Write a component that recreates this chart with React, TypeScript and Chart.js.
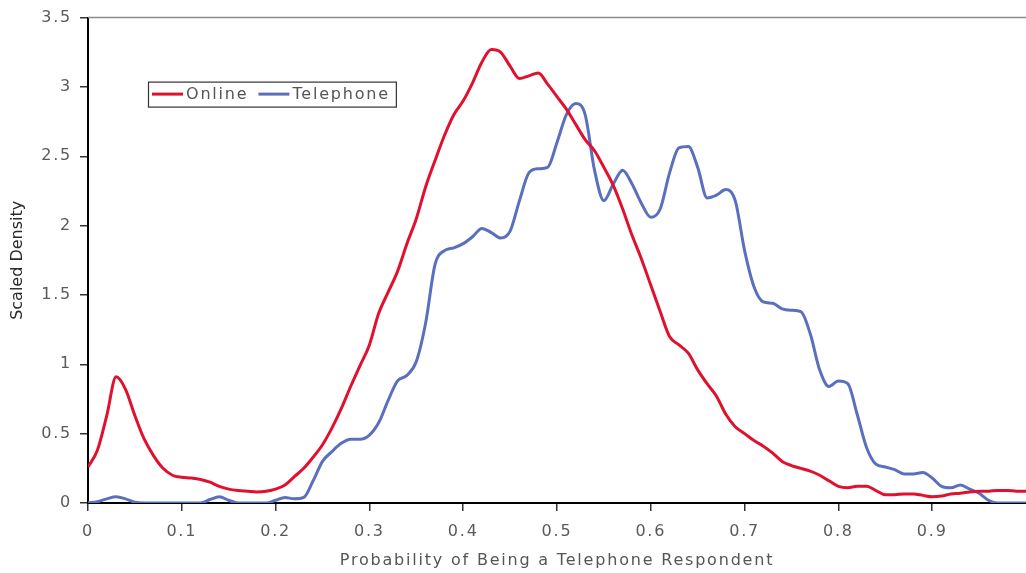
import React, { useEffect, useRef } from 'react';
import { Chart, registerables } from 'chart.js';

Chart.register(...registerables);

const xValues = [
  0.00, 0.01, 0.02, 0.03, 0.04, 0.05, 0.06, 0.07, 0.08, 0.09,
  0.10, 0.11, 0.12, 0.13, 0.14, 0.15, 0.16, 0.17, 0.18, 0.19,
  0.20, 0.21, 0.22, 0.23, 0.24, 0.25, 0.26, 0.27, 0.28, 0.29,
  0.30, 0.31, 0.32, 0.33, 0.34, 0.35, 0.36, 0.37, 0.38, 0.39,
  0.40, 0.41, 0.42, 0.43, 0.44, 0.45, 0.46, 0.47, 0.48, 0.49,
  0.50, 0.51, 0.52, 0.53, 0.54, 0.55, 0.56, 0.57, 0.58, 0.59,
  0.60, 0.61, 0.62, 0.63, 0.64, 0.65, 0.66, 0.67, 0.68, 0.69,
  0.70, 0.71, 0.72, 0.73, 0.74, 0.75, 0.76, 0.77, 0.78, 0.79,
  0.80, 0.81, 0.82, 0.83, 0.84, 0.85, 0.86, 0.87, 0.88, 0.89,
  0.90, 0.91, 0.92, 0.93, 0.94, 0.95, 0.96, 0.97, 0.98, 0.99,
  1.00,
];

const onlineValues = [
  0.26, 0.38, 0.63, 0.91, 0.82, 0.63, 0.46, 0.34, 0.25, 0.20,
  0.185, 0.18, 0.17, 0.15, 0.12, 0.10, 0.09, 0.085, 0.08, 0.085,
  0.10, 0.13, 0.19, 0.25, 0.33, 0.42, 0.54, 0.68, 0.84, 0.99,
  1.14, 1.37, 1.52, 1.67, 1.87, 2.05, 2.28, 2.47, 2.65, 2.80,
  2.90, 3.03, 3.18, 3.27, 3.25, 3.15, 3.06, 3.08, 3.10, 3.02,
  2.93, 2.84, 2.73, 2.62, 2.54, 2.42, 2.29, 2.12, 1.93, 1.76,
  1.57, 1.38, 1.20, 1.14, 1.08, 0.96, 0.86, 0.77, 0.64, 0.55,
  0.50, 0.45, 0.41, 0.36, 0.30, 0.27, 0.25, 0.23, 0.20, 0.16,
  0.12, 0.11, 0.12, 0.12, 0.09, 0.06, 0.06, 0.065, 0.065, 0.055,
  0.045, 0.05, 0.065, 0.07, 0.08, 0.085, 0.085, 0.09, 0.09, 0.085,
  0.085,
];

const telephoneValues = [
  0.00, 0.01, 0.03, 0.045, 0.03, 0.005, 0.00, 0.00, 0.00, 0.00,
  0.00, 0.00, 0.00, 0.025, 0.045, 0.02, 0.00, 0.00, 0.00, 0.00,
  0.02, 0.04, 0.03, 0.04, 0.16, 0.30, 0.37, 0.43, 0.46, 0.46,
  0.49, 0.58, 0.74, 0.88, 0.92, 1.02, 1.30, 1.72, 1.82, 1.84,
  1.87, 1.92, 1.98, 1.95, 1.91, 1.96, 2.18, 2.38, 2.41, 2.42,
  2.60, 2.80, 2.88, 2.80, 2.40, 2.18, 2.30, 2.40, 2.30, 2.16,
  2.06, 2.12, 2.38, 2.56, 2.57, 2.42, 2.20, 2.22, 2.26, 2.18,
  1.82, 1.56, 1.45, 1.44, 1.40, 1.39, 1.38, 1.22, 0.96, 0.84,
  0.88, 0.86, 0.64, 0.40, 0.28, 0.26, 0.24, 0.21, 0.21, 0.22,
  0.18, 0.12, 0.11, 0.13, 0.10, 0.07, 0.02, 0.00, 0.00, 0.00,
  0.00,
];

const seriesLabels = ['Online', 'Telephone'];
const seriesColors = ['#e0102f', '#5a6fbd'];
const xTickValues = [0, 0.1, 0.2, 0.3, 0.4, 0.5, 0.6, 0.7, 0.8, 0.9];
const yTickValues = [0, 0.5, 1, 1.5, 2, 2.5, 3, 3.5];
const xTitle = 'Probability of Being a Telephone Respondent';
const yTitle = 'Scaled Density';

const FONT = '"DejaVu Sans", "Liberation Sans", Arial, sans-serif';
const SPACING = '1.8px';

const decorPlugin = {
  id: 'decor',
  afterInit(chart: any) {
    chart.ctx.letterSpacing = SPACING;
  },
  beforeUpdate(chart: any) {
    chart.ctx.letterSpacing = SPACING;
  },
  beforeDraw(chart: any) {
    chart.ctx.letterSpacing = SPACING;
  },
  beforeDatasetsDraw(chart: any) {
    const { ctx, chartArea } = chart;
    ctx.save();
    ctx.strokeStyle = '#8a8a8a';
    ctx.lineWidth = 1.5;
    ctx.beginPath();
    ctx.moveTo(chartArea.left, chartArea.top);
    ctx.lineTo(chartArea.right, chartArea.top);
    ctx.stroke();
    ctx.restore();
  },
  afterDraw(chart: any) {
    const { ctx, chartArea } = chart;
    // y-axis title
    ctx.save();
    ctx.letterSpacing = '0px';
    ctx.translate(18, (chartArea.top + chartArea.bottom) / 2);
    ctx.rotate(-Math.PI / 2);
    ctx.font = `16px ${FONT}`;
    ctx.fillStyle = '#2a2a2a';
    ctx.textAlign = 'center';
    ctx.textBaseline = 'middle';
    ctx.fillText(yTitle, 0, 0);
    ctx.restore();

    // legend box
    ctx.save();
    ctx.letterSpacing = SPACING;
    ctx.font = `16px ${FONT}`;
    ctx.textBaseline = 'middle';
    ctx.textAlign = 'left';
    const boxLeft = chartArea.left + 60;
    const boxTop = chartArea.top + 64;
    const boxH = 25;
    const cy = boxTop + boxH / 2;
    let x = boxLeft + 4;
    const datasets = chart.data.datasets;
    datasets.forEach((ds: any, i: number) => {
      ctx.strokeStyle = ds.borderColor;
      ctx.lineWidth = 3;
      ctx.beginPath();
      ctx.moveTo(x, cy);
      ctx.lineTo(x + 31, cy);
      ctx.stroke();
      x += 34;
      ctx.fillStyle = '#555555';
      ctx.fillText(ds.label, x, cy + 1);
      x += ctx.measureText(ds.label).width;
      if (i < datasets.length - 1) x += 10;
    });
    const boxW = x + 6 - boxLeft;
    ctx.strokeStyle = '#333333';
    ctx.lineWidth = 1.2;
    ctx.strokeRect(boxLeft + 0.5, boxTop + 0.5, boxW, boxH);
    ctx.restore();
  },
};

export default function App() {
  const canvasRef = useRef<HTMLCanvasElement | null>(null);

  useEffect(() => {
    const canvas = canvasRef.current;
    if (!canvas) return;
    const chart = new Chart(canvas, {
      type: 'line',
      data: {
        datasets: [
          {
            label: seriesLabels[0],
            data: xValues.map((x, i) => ({ x, y: onlineValues[i] })),
            borderColor: seriesColors[0],
            backgroundColor: seriesColors[0],
            borderWidth: 3,
            pointRadius: 0,
            cubicInterpolationMode: 'monotone',
            fill: false,
          },
          {
            label: seriesLabels[1],
            data: xValues.map((x, i) => ({ x, y: telephoneValues[i] })),
            borderColor: seriesColors[1],
            backgroundColor: seriesColors[1],
            borderWidth: 3,
            pointRadius: 0,
            cubicInterpolationMode: 'monotone',
            fill: false,
          },
        ],
      },
      options: {
        animation: false,
        responsive: false,
        devicePixelRatio: 1,
        layout: { padding: { top: 15, right: 0, bottom: 0, left: 0 } },
        plugins: {
          legend: { display: false },
          tooltip: { enabled: false },
          title: { display: false },
        },
        scales: {
          x: {
            type: 'linear',
            min: 0,
            max: 1,
            afterBuildTicks: (scale: any) => {
              scale.ticks = xTickValues.map((v) => ({ value: v }));
            },
            afterFit: (scale: any) => {
              scale.height = 70;
            },
            ticks: {
              autoSkip: false,
              maxRotation: 0,
              padding: 11,
              color: '#5a5a5a',
              font: { family: FONT, size: 16 },
              callback: (v: any) => String(v),
            },
            grid: {
              display: true,
              drawOnChartArea: false,
              drawTicks: true,
              tickLength: 8,
              color: '#333333',
              lineWidth: 1.5,
            },
            border: { display: true, color: '#000000', width: 2 },
            title: {
              display: true,
              text: xTitle,
              color: '#555555',
              font: { family: FONT, size: 16 },
              padding: { top: 0, bottom: 3 },
            },
          },
          y: {
            type: 'linear',
            min: 0,
            max: 3.5,
            afterBuildTicks: (scale: any) => {
              scale.ticks = yTickValues.map((v) => ({ value: v }));
            },
            afterFit: (scale: any) => {
              scale.width = 88;
            },
            ticks: {
              autoSkip: false,
              padding: 8,
              color: '#5a5a5a',
              font: { family: FONT, size: 16 },
              callback: (v: any) => String(v),
            },
            grid: {
              display: true,
              drawOnChartArea: false,
              drawTicks: true,
              tickLength: 8,
              color: '#333333',
              lineWidth: 1.5,
            },
            border: { display: true, color: '#000000', width: 2 },
          },
        },
      },
      plugins: [decorPlugin],
    } as any);
    return () => {
      chart.destroy();
    };
  }, []);

  return (
    <div style={{ position: 'absolute', left: 0, top: 0, width: 1026, height: 573, overflow: 'hidden', background: '#ffffff' }}>
      <canvas ref={canvasRef} width={1026} height={573} style={{ display: 'block', width: 1026, height: 573 }} />
    </div>
  );
}
